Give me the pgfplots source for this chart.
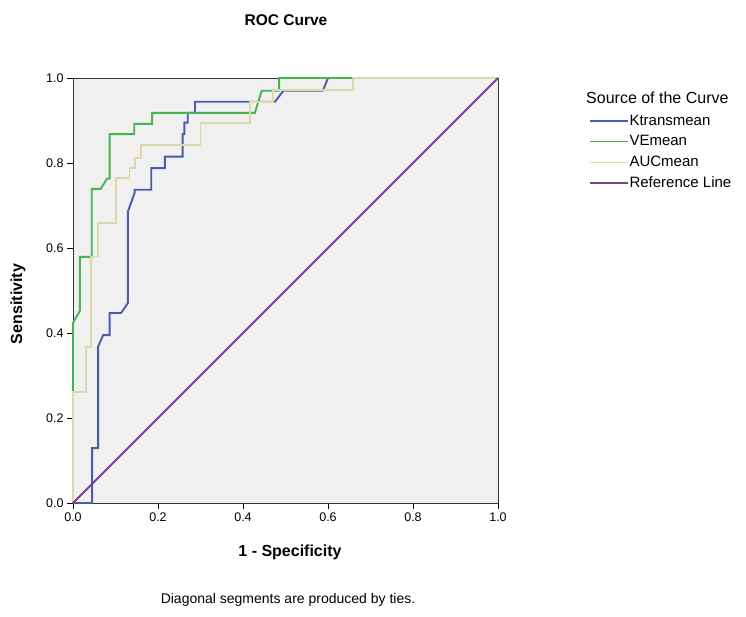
\documentclass[border=0pt]{standalone}
\usepackage{pgfplots}
\pgfplotsset{compat=1.18}
\usepackage{fontspec}
\setmainfont{Liberation Sans}
\definecolor{cblue}{RGB}{72,92,170}
\definecolor{cgreen}{RGB}{72,180,80}
\definecolor{ctan}{RGB}{222,216,168}
\definecolor{cpurple}{RGB}{125,60,140}
\definecolor{plotbg}{RGB}{240,240,240}
\begin{document}
\begin{tikzpicture}[x=1pt,y=1pt]
\useasboundingbox[fill=white] (0,0) rectangle (746,616);
\begin{axis}[
  at={(73pt,113pt)}, anchor=south west,
  scale only axis, width=425pt, height=425pt,
  xmin=0, xmax=1, ymin=0, ymax=1,
  clip=false,
  axis background/.style={fill=plotbg},
  axis line style={draw=black!80, line width=0.8pt},
  xtick={0,0.2,0.4,0.6,0.8,1}, ytick={0,0.2,0.4,0.6,0.8,1},
  xticklabels={0.0,0.2,0.4,0.6,0.8,1.0},
  yticklabels={0.0,0.2,0.4,0.6,0.8,1.0},
  tick align=outside, xtick pos=bottom, ytick pos=left,
  major tick length=6pt,
  tick style={black, line width=0.8pt},
  ticklabel style={font=\fontsize{12.5}{14}\selectfont},
  /pgf/number format/assume math mode=true,
  legend style={at={(1.214,0.918)}, anchor=north west, draw=none, fill=none,
    font=\fontsize{15}{17}\selectfont, inner sep=0pt, row sep=4.7pt,
    nodes={inner sep=1pt, text height=11pt, text depth=3pt}},
  legend cell align=left,
  legend image code/.code={\draw[#1, line width=1.4pt] (0pt,0pt) -- (38pt,0pt);},
]
\addplot[cblue, line width=1.9pt] coordinates {
(0,0) (0.045,0) (0.045,0.129) (0.059,0.129) (0.059,0.368) (0.071,0.395)
(0.086,0.395) (0.086,0.447) (0.113,0.447) (0.129,0.47) (0.129,0.685)
(0.145,0.73) (0.145,0.737) (0.184,0.737) (0.184,0.788) (0.216,0.788)
(0.216,0.815) (0.258,0.815) (0.258,0.868) (0.262,0.868) (0.262,0.895)
(0.270,0.895) (0.270,0.918) (0.287,0.918) (0.287,0.944) (0.475,0.944)
(0.495,0.970) (0.588,0.970) (0.600,1.0) (1,1)};
\addlegendentry{Ktransmean}
\addplot[cgreen, line width=1.9pt] coordinates {
(0,0) (0,0.424) (0.016,0.452) (0.016,0.579) (0.044,0.579) (0.044,0.739)
(0.065,0.739) (0.08,0.763) (0.086,0.763) (0.086,0.868) (0.144,0.868)
(0.144,0.892) (0.186,0.892) (0.186,0.918) (0.428,0.918) (0.444,0.970)
(0.485,0.970) (0.485,1.0) (1,1)};
\addlegendentry{VEmean}
\addplot[ctan, line width=1.9pt] coordinates {
(0,0) (0,0.262) (0.030,0.262) (0.030,0.368) (0.043,0.368) (0.043,0.58)
(0.059,0.58) (0.059,0.659) (0.102,0.659) (0.102,0.765) (0.133,0.765)
(0.133,0.788) (0.145,0.788) (0.145,0.812) (0.159,0.812) (0.159,0.842)
(0.300,0.842) (0.300,0.894) (0.416,0.894) (0.416,0.944) (0.470,0.944)
(0.470,0.972) (0.659,0.972) (0.659,1.0) (1,1)};
\addlegendentry{AUCmean}
\addplot[cpurple, line width=1.9pt] coordinates {(0,0) (1,1)};
\addlegendentry{Reference Line}
\end{axis}
\node[font=\bfseries\fontsize{15.5}{18}\selectfont] at (286,596) {ROC Curve};
\node[font=\bfseries\fontsize{16}{19}\selectfont] at (290,64) {1 - Specificity};
\node[font=\bfseries\fontsize{16}{19}\selectfont, rotate=90] at (18,312) {Sensitivity};
\node[font=\fontsize{14}{17}\selectfont] at (288,16) {Diagonal segments are produced by ties.};
\node[anchor=west, font=\fontsize{16}{19}\selectfont, inner sep=0pt] at (586,518) {Source of the Curve};
\end{tikzpicture}
\end{document}
